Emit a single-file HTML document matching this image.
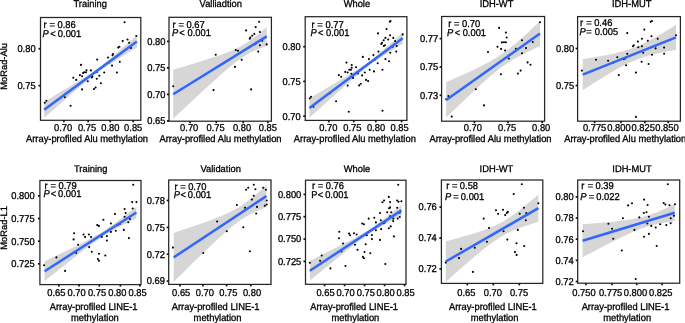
<!DOCTYPE html><html><head><meta charset="utf-8"><style>html,body{margin:0;padding:0;background:#fff;width:685px;height:323px;overflow:hidden}svg{display:block;will-change:transform}text{font-family:"Liberation Sans",sans-serif;font-size:9.35px;fill:#000;stroke:#000;stroke-width:0.3px;text-rendering:geometricPrecision}</style></head><body>
<svg xmlns="http://www.w3.org/2000/svg" width="685" height="323" viewBox="0 0 685 323">
<g><path d="M44.20,101.80 L46.52,100.42 L48.83,99.03 L51.15,97.65 L53.46,96.26 L55.78,94.87 L58.09,93.48 L60.41,92.09 L62.72,90.69 L65.03,89.30 L67.35,87.90 L69.67,86.49 L71.98,85.08 L74.30,83.67 L76.61,82.24 L78.93,80.81 L81.24,79.37 L83.56,77.91 L85.87,76.43 L88.19,74.93 L90.50,73.39 L92.81,71.82 L95.13,70.20 L97.45,68.53 L99.76,66.80 L102.08,65.02 L104.39,63.18 L106.71,61.31 L109.02,59.41 L111.34,57.47 L113.65,55.52 L115.97,53.55 L118.28,51.57 L120.60,49.58 L122.91,47.59 L125.23,45.58 L127.54,43.57 L129.86,41.56 L132.17,39.54 L134.49,37.52 L136.80,35.50 L136.80,47.50 L134.49,48.89 L132.17,50.29 L129.86,51.69 L127.54,53.09 L125.23,54.49 L122.91,55.90 L120.60,57.32 L118.28,58.75 L115.97,60.18 L113.65,61.63 L111.34,63.09 L109.02,64.57 L106.71,66.08 L104.39,67.63 L102.08,69.21 L99.76,70.84 L97.45,72.53 L95.13,74.27 L92.81,76.06 L90.50,77.91 L88.19,79.79 L85.87,81.70 L83.56,83.64 L81.24,85.59 L78.93,87.56 L76.61,89.55 L74.30,91.54 L71.98,93.54 L69.67,95.54 L67.35,97.55 L65.03,99.57 L62.72,101.59 L60.41,103.61 L58.09,105.63 L55.78,107.65 L53.46,109.68 L51.15,111.71 L48.83,113.74 L46.52,115.77 L44.20,117.80 Z" fill="#D6D6D6"/><circle cx="124.6" cy="22.3" r="1.05"/><circle cx="136.3" cy="36.0" r="1.05"/><circle cx="127.5" cy="39.5" r="1.05"/><circle cx="122.7" cy="41.1" r="1.05"/><circle cx="129.1" cy="42.7" r="1.05"/><circle cx="131.0" cy="47.9" r="1.05"/><circle cx="119.4" cy="46.8" r="1.05"/><circle cx="118.2" cy="47.6" r="1.05"/><circle cx="113.0" cy="54.0" r="1.05"/><circle cx="112.5" cy="55.3" r="1.05"/><circle cx="108.0" cy="57.5" r="1.05"/><circle cx="97.2" cy="59.6" r="1.05"/><circle cx="119.8" cy="61.7" r="1.05"/><circle cx="109.0" cy="62.4" r="1.05"/><circle cx="112.0" cy="65.6" r="1.05"/><circle cx="81.0" cy="64.9" r="1.05"/><circle cx="86.5" cy="70.3" r="1.05"/><circle cx="84.2" cy="72.2" r="1.05"/><circle cx="83.1" cy="73.0" r="1.05"/><circle cx="79.9" cy="75.1" r="1.05"/><circle cx="82.1" cy="76.2" r="1.05"/><circle cx="73.3" cy="77.8" r="1.05"/><circle cx="76.2" cy="79.9" r="1.05"/><circle cx="87.8" cy="81.3" r="1.05"/><circle cx="82.1" cy="89.4" r="1.05"/><circle cx="64.9" cy="97.2" r="1.05"/><circle cx="46.4" cy="100.7" r="1.05"/><circle cx="44.8" cy="102.8" r="1.05"/><circle cx="70.6" cy="105.7" r="1.05"/><circle cx="104.2" cy="72.5" r="1.05"/><circle cx="116.9" cy="72.5" r="1.05"/><circle cx="99.3" cy="75.8" r="1.05"/><circle cx="92.4" cy="76.6" r="1.05"/><circle cx="91.8" cy="77.5" r="1.05"/><circle cx="96.8" cy="78.7" r="1.05"/><circle cx="100.9" cy="83.2" r="1.05"/><circle cx="95.6" cy="87.5" r="1.05"/><circle cx="94.0" cy="89.1" r="1.05"/><circle cx="86.0" cy="72.3" r="1.05"/><circle cx="90.9" cy="70.4" r="1.05"/><circle cx="96.8" cy="72.0" r="1.05"/><line x1="44.2" y1="109.8" x2="136.8" y2="41.5" stroke="#3366FF" stroke-width="2.5"/><rect x="40.5" y="17.5" width="100.30" height="102.80" fill="none" stroke="#262626" stroke-width="1.25"/><line x1="63.9" y1="120.3" x2="63.9" y2="122.30" stroke="#111" stroke-width="1.7"/><text transform="translate(63.1 130.5) scale(1 1.06)" text-anchor="middle">0.70</text><line x1="88.2" y1="120.3" x2="88.2" y2="122.30" stroke="#111" stroke-width="1.7"/><text transform="translate(87.0 130.5) scale(1 1.06)" text-anchor="middle">0.75</text><line x1="110.2" y1="120.3" x2="110.2" y2="122.30" stroke="#111" stroke-width="1.7"/><text transform="translate(110.4 130.5) scale(1 1.06)" text-anchor="middle">0.80</text><line x1="133.2" y1="120.3" x2="133.2" y2="122.30" stroke="#111" stroke-width="1.7"/><text transform="translate(133.2 130.5) scale(1 1.06)" text-anchor="middle">0.85</text><line x1="38.50" y1="48.7" x2="40.5" y2="48.7" stroke="#111" stroke-width="1.7"/><text transform="translate(35.6 52.00) scale(1 1.06)" text-anchor="end">0.80</text><line x1="38.50" y1="85.7" x2="40.5" y2="85.7" stroke="#111" stroke-width="1.7"/><text transform="translate(35.6 89.00) scale(1 1.06)" text-anchor="end">0.75</text><text transform="translate(90.2 7.0) scale(1 1.05)" text-anchor="middle">Training</text><text transform="translate(87.0 142.0) scale(1 1.06)" text-anchor="middle">Array-profiled Alu methylation</text><text transform="translate(43.48 28.26) scale(1 1.06)">r</text><text transform="translate(49.44 28.26) scale(1 1.06)">=</text><text transform="translate(57.54 28.26) scale(1 1.06)">0.86</text><text transform="translate(42.61 36.8) scale(1 1.06)" font-style="italic">P</text><text transform="translate(50.34 36.8) scale(1 1.06)">&lt;</text><text transform="translate(57.84 36.8) scale(1 1.06)">0.001</text></g>
<g><path d="M173.20,69.70 L175.54,69.01 L177.88,68.32 L180.21,67.62 L182.55,66.92 L184.89,66.22 L187.22,65.52 L189.56,64.82 L191.90,64.11 L194.24,63.40 L196.57,62.69 L198.91,61.97 L201.25,61.24 L203.59,60.51 L205.92,59.78 L208.26,59.03 L210.60,58.28 L212.94,57.52 L215.27,56.74 L217.61,55.95 L219.95,55.14 L222.29,54.32 L224.62,53.46 L226.96,52.58 L229.30,51.66 L231.64,50.69 L233.97,49.67 L236.31,48.59 L238.65,47.42 L240.99,46.18 L243.32,44.84 L245.66,43.39 L248.00,41.85 L250.34,40.22 L252.67,38.49 L255.01,36.69 L257.35,34.83 L259.69,32.90 L262.02,30.94 L264.36,28.93 L266.70,26.90 L266.70,45.90 L264.36,46.76 L262.02,47.64 L259.69,48.57 L257.35,49.53 L255.01,50.56 L252.67,51.65 L250.34,52.81 L248.00,54.07 L245.66,55.42 L243.32,56.86 L240.99,58.41 L238.65,60.06 L236.31,61.78 L233.97,63.59 L231.64,65.46 L229.30,67.38 L226.96,69.35 L224.62,71.36 L222.29,73.39 L219.95,75.46 L217.61,77.54 L215.27,79.64 L212.94,81.75 L210.60,83.88 L208.26,86.02 L205.92,88.16 L203.59,90.32 L201.25,92.48 L198.91,94.64 L196.57,96.81 L194.24,98.99 L191.90,101.17 L189.56,103.35 L187.22,105.54 L184.89,107.73 L182.55,109.92 L180.21,112.11 L177.88,114.30 L175.54,116.50 L173.20,118.70 Z" fill="#D6D6D6"/><circle cx="259.1" cy="21.8" r="1.05"/><circle cx="246.1" cy="30.4" r="1.05"/><circle cx="255.7" cy="27.1" r="1.05"/><circle cx="259.9" cy="32.0" r="1.05"/><circle cx="254.3" cy="33.9" r="1.05"/><circle cx="252.2" cy="35.8" r="1.05"/><circle cx="250.3" cy="37.6" r="1.05"/><circle cx="249.8" cy="38.7" r="1.05"/><circle cx="262.2" cy="40.8" r="1.05"/><circle cx="255.4" cy="44.1" r="1.05"/><circle cx="259.9" cy="45.2" r="1.05"/><circle cx="266.7" cy="44.4" r="1.05"/><circle cx="235.8" cy="50.0" r="1.05"/><circle cx="238.0" cy="50.8" r="1.05"/><circle cx="258.2" cy="51.6" r="1.05"/><circle cx="241.7" cy="59.7" r="1.05"/><circle cx="235.0" cy="66.9" r="1.05"/><circle cx="173.2" cy="86.3" r="1.05"/><circle cx="213.5" cy="90.1" r="1.05"/><circle cx="215.7" cy="54.8" r="1.05"/><circle cx="251.1" cy="89.4" r="1.05"/><line x1="173.2" y1="94.2" x2="266.7" y2="36.4" stroke="#3366FF" stroke-width="2.5"/><rect x="169.0" y="17.3" width="102.40" height="103.90" fill="none" stroke="#262626" stroke-width="1.25"/><line x1="190.0" y1="121.2" x2="190.0" y2="123.20" stroke="#111" stroke-width="1.7"/><text transform="translate(189.2 130.5) scale(1 1.06)" text-anchor="middle">0.70</text><line x1="216.3" y1="121.2" x2="216.3" y2="123.20" stroke="#111" stroke-width="1.7"/><text transform="translate(215.6 130.5) scale(1 1.06)" text-anchor="middle">0.75</text><line x1="243.2" y1="121.2" x2="243.2" y2="123.20" stroke="#111" stroke-width="1.7"/><text transform="translate(242.0 130.5) scale(1 1.06)" text-anchor="middle">0.80</text><line x1="267.8" y1="121.2" x2="267.8" y2="123.20" stroke="#111" stroke-width="1.7"/><text transform="translate(267.8 130.5) scale(1 1.06)" text-anchor="middle">0.85</text><line x1="167.00" y1="41.3" x2="169.0" y2="41.3" stroke="#111" stroke-width="1.7"/><text transform="translate(165.4 44.60) scale(1 1.06)" text-anchor="end">0.80</text><line x1="167.00" y1="67.8" x2="169.0" y2="67.8" stroke="#111" stroke-width="1.7"/><text transform="translate(165.4 71.10) scale(1 1.06)" text-anchor="end">0.75</text><line x1="167.00" y1="94.3" x2="169.0" y2="94.3" stroke="#111" stroke-width="1.7"/><text transform="translate(165.4 97.60) scale(1 1.06)" text-anchor="end">0.70</text><line x1="167.00" y1="120.8" x2="169.0" y2="120.8" stroke="#111" stroke-width="1.7"/><text transform="translate(165.4 124.10) scale(1 1.06)" text-anchor="end">0.65</text><text transform="translate(220.8 7.0) scale(1 1.05)" text-anchor="middle">Valliadtion</text><text transform="translate(220.5 142.0) scale(1 1.06)" text-anchor="middle">Array-profiled Alu methylation</text><text transform="translate(172.58 27.86) scale(1 1.06)">r</text><text transform="translate(178.44 27.86) scale(1 1.06)">=</text><text transform="translate(186.54 27.86) scale(1 1.06)">0.67</text><text transform="translate(171.91 36.26) scale(1 1.06)" font-style="italic">P</text><text transform="translate(179.34 36.26) scale(1 1.06)">&lt;</text><text transform="translate(187.44 36.26) scale(1 1.06)">0.001</text></g>
<g><path d="M309.50,98.30 L311.83,96.92 L314.16,95.53 L316.49,94.15 L318.82,92.77 L321.15,91.38 L323.48,89.99 L325.81,88.60 L328.14,87.21 L330.47,85.82 L332.80,84.43 L335.13,83.03 L337.46,81.64 L339.79,80.23 L342.12,78.83 L344.45,77.42 L346.78,76.00 L349.11,74.57 L351.44,73.14 L353.77,71.69 L356.10,70.23 L358.43,68.74 L360.76,67.23 L363.09,65.67 L365.42,64.07 L367.75,62.42 L370.08,60.69 L372.41,58.90 L374.74,57.05 L377.07,55.14 L379.40,53.19 L381.73,51.21 L384.06,49.20 L386.39,47.17 L388.72,45.13 L391.05,43.08 L393.38,41.01 L395.71,38.94 L398.04,36.87 L400.37,34.78 L402.70,32.70 L402.70,43.90 L400.37,45.30 L398.04,46.70 L395.71,48.11 L393.38,49.53 L391.05,50.95 L388.72,52.38 L386.39,53.82 L384.06,55.28 L381.73,56.75 L379.40,58.26 L377.07,59.79 L374.74,61.37 L372.41,63.00 L370.08,64.70 L367.75,66.46 L365.42,68.29 L363.09,70.17 L360.76,72.10 L358.43,74.07 L356.10,76.07 L353.77,78.09 L351.44,80.13 L349.11,82.18 L346.78,84.24 L344.45,86.31 L342.12,88.38 L339.79,90.46 L337.46,92.54 L335.13,94.63 L332.80,96.72 L330.47,98.81 L328.14,100.91 L325.81,103.00 L323.48,105.10 L321.15,107.20 L318.82,109.29 L316.49,111.40 L314.16,113.50 L311.83,115.60 L309.50,117.70 Z" fill="#D6D6D6"/><circle cx="389.8" cy="21.8" r="1.05"/><circle cx="390.5" cy="21.0" r="1.05"/><circle cx="386.6" cy="29.1" r="1.05"/><circle cx="378.0" cy="33.4" r="1.05"/><circle cx="390.1" cy="35.2" r="1.05"/><circle cx="402.7" cy="34.4" r="1.05"/><circle cx="393.3" cy="37.9" r="1.05"/><circle cx="385.4" cy="37.9" r="1.05"/><circle cx="383.7" cy="40.3" r="1.05"/><circle cx="388.2" cy="39.5" r="1.05"/><circle cx="382.1" cy="42.7" r="1.05"/><circle cx="381.3" cy="44.0" r="1.05"/><circle cx="385.0" cy="45.2" r="1.05"/><circle cx="383.8" cy="46.0" r="1.05"/><circle cx="395.1" cy="41.1" r="1.05"/><circle cx="392.7" cy="46.8" r="1.05"/><circle cx="396.7" cy="46.0" r="1.05"/><circle cx="378.5" cy="51.6" r="1.05"/><circle cx="386.2" cy="50.8" r="1.05"/><circle cx="390.3" cy="52.7" r="1.05"/><circle cx="396.2" cy="51.6" r="1.05"/><circle cx="373.4" cy="55.1" r="1.05"/><circle cx="362.8" cy="56.9" r="1.05"/><circle cx="368.9" cy="59.1" r="1.05"/><circle cx="375.0" cy="59.6" r="1.05"/><circle cx="385.4" cy="59.1" r="1.05"/><circle cx="389.0" cy="61.2" r="1.05"/><circle cx="377.7" cy="63.3" r="1.05"/><circle cx="356.1" cy="67.3" r="1.05"/><circle cx="346.5" cy="62.6" r="1.05"/><circle cx="351.7" cy="65.0" r="1.05"/><circle cx="351.7" cy="67.7" r="1.05"/><circle cx="349.3" cy="69.8" r="1.05"/><circle cx="350.9" cy="69.8" r="1.05"/><circle cx="345.3" cy="71.9" r="1.05"/><circle cx="347.7" cy="72.5" r="1.05"/><circle cx="351.4" cy="73.8" r="1.05"/><circle cx="338.8" cy="75.1" r="1.05"/><circle cx="341.2" cy="76.7" r="1.05"/><circle cx="353.0" cy="77.9" r="1.05"/><circle cx="347.7" cy="85.6" r="1.05"/><circle cx="330.0" cy="93.2" r="1.05"/><circle cx="311.1" cy="96.7" r="1.05"/><circle cx="309.8" cy="98.3" r="1.05"/><circle cx="313.4" cy="106.8" r="1.05"/><circle cx="336.1" cy="101.2" r="1.05"/><circle cx="348.8" cy="111.7" r="1.05"/><circle cx="369.7" cy="69.8" r="1.05"/><circle cx="374.0" cy="71.4" r="1.05"/><circle cx="382.5" cy="69.8" r="1.05"/><circle cx="364.8" cy="72.5" r="1.05"/><circle cx="357.9" cy="73.5" r="1.05"/><circle cx="362.1" cy="75.4" r="1.05"/><circle cx="366.0" cy="79.9" r="1.05"/><circle cx="368.1" cy="81.1" r="1.05"/><circle cx="360.8" cy="83.8" r="1.05"/><circle cx="359.2" cy="85.4" r="1.05"/><circle cx="382.5" cy="110.8" r="1.05"/><line x1="309.5" y1="108.0" x2="402.7" y2="38.300000000000004" stroke="#3366FF" stroke-width="2.5"/><rect x="305.2" y="16.7" width="101.70" height="103.70" fill="none" stroke="#262626" stroke-width="1.25"/><line x1="328.8" y1="120.4" x2="328.8" y2="122.40" stroke="#111" stroke-width="1.7"/><text transform="translate(328.4 130.5) scale(1 1.06)" text-anchor="middle">0.70</text><line x1="353.7" y1="120.4" x2="353.7" y2="122.40" stroke="#111" stroke-width="1.7"/><text transform="translate(352.4 130.5) scale(1 1.06)" text-anchor="middle">0.75</text><line x1="375.8" y1="120.4" x2="375.8" y2="122.40" stroke="#111" stroke-width="1.7"/><text transform="translate(376.0 130.5) scale(1 1.06)" text-anchor="middle">0.80</text><line x1="401.6" y1="120.4" x2="401.6" y2="122.40" stroke="#111" stroke-width="1.7"/><text transform="translate(399.6 130.5) scale(1 1.06)" text-anchor="middle">0.85</text><line x1="303.20" y1="46.7" x2="305.2" y2="46.7" stroke="#111" stroke-width="1.7"/><text transform="translate(300.7 50.00) scale(1 1.06)" text-anchor="end">0.80</text><line x1="303.20" y1="81.45" x2="305.2" y2="81.45" stroke="#111" stroke-width="1.7"/><text transform="translate(300.7 84.75) scale(1 1.06)" text-anchor="end">0.75</text><line x1="303.20" y1="116.2" x2="305.2" y2="116.2" stroke="#111" stroke-width="1.7"/><text transform="translate(300.7 119.50) scale(1 1.06)" text-anchor="end">0.70</text><text transform="translate(356.9 7.0) scale(1 1.05)" text-anchor="middle">Whole</text><text transform="translate(354.8 142.0) scale(1 1.06)" text-anchor="middle">Array-profiled Alu methylation</text><text transform="translate(311.38 27.7) scale(1 1.06)">r</text><text transform="translate(317.14 27.7) scale(1 1.06)">=</text><text transform="translate(325.44 27.7) scale(1 1.06)">0.77</text><text transform="translate(310.51 36.1) scale(1 1.06)" font-style="italic">P</text><text transform="translate(318.04 36.1) scale(1 1.06)">&lt;</text><text transform="translate(326.04 36.1) scale(1 1.06)">0.001</text></g>
<g><path d="M446.20,82.20 L448.55,81.17 L450.89,80.13 L453.24,79.10 L455.58,78.05 L457.93,77.00 L460.27,75.95 L462.62,74.88 L464.96,73.81 L467.31,72.73 L469.65,71.64 L472.00,70.54 L474.34,69.42 L476.69,68.29 L479.03,67.14 L481.38,65.96 L483.72,64.77 L486.06,63.54 L488.41,62.27 L490.75,60.96 L493.10,59.61 L495.44,58.21 L497.79,56.74 L500.13,55.21 L502.48,53.62 L504.82,51.95 L507.17,50.21 L509.51,48.41 L511.86,46.54 L514.21,44.62 L516.55,42.64 L518.89,40.62 L521.24,38.56 L523.59,36.47 L525.93,34.35 L528.27,32.20 L530.62,30.03 L532.97,27.85 L535.31,25.64 L537.65,23.43 L540.00,21.20 L540.00,46.00 L537.65,47.09 L535.31,48.19 L532.97,49.30 L530.62,50.43 L528.27,51.57 L525.93,52.74 L523.59,53.93 L521.24,55.16 L518.89,56.41 L516.55,57.71 L514.21,59.05 L511.86,60.44 L509.51,61.89 L507.17,63.40 L504.82,64.98 L502.48,66.62 L500.13,68.34 L497.79,70.13 L495.44,71.98 L493.10,73.89 L490.75,75.85 L488.41,77.86 L486.06,79.91 L483.72,81.99 L481.38,84.11 L479.03,86.25 L476.69,88.41 L474.34,90.60 L472.00,92.80 L469.65,95.01 L467.31,97.23 L464.96,99.47 L462.62,101.71 L460.27,103.96 L457.93,106.22 L455.58,108.49 L453.24,110.76 L450.89,113.04 L448.55,115.32 L446.20,117.60 Z" fill="#D6D6D6"/><circle cx="540.0" cy="22.2" r="1.05"/><circle cx="499.1" cy="27.9" r="1.05"/><circle cx="505.9" cy="32.6" r="1.05"/><circle cx="506.7" cy="37.5" r="1.05"/><circle cx="501.9" cy="42.4" r="1.05"/><circle cx="504.0" cy="42.3" r="1.05"/><circle cx="505.9" cy="42.3" r="1.05"/><circle cx="497.5" cy="46.8" r="1.05"/><circle cx="501.1" cy="48.9" r="1.05"/><circle cx="505.1" cy="50.5" r="1.05"/><circle cx="522.0" cy="40.3" r="1.05"/><circle cx="532.8" cy="42.0" r="1.05"/><circle cx="515.9" cy="48.7" r="1.05"/><circle cx="526.0" cy="48.1" r="1.05"/><circle cx="522.0" cy="53.2" r="1.05"/><circle cx="508.8" cy="58.5" r="1.05"/><circle cx="527.6" cy="62.4" r="1.05"/><circle cx="530.5" cy="64.7" r="1.05"/><circle cx="488.0" cy="52.1" r="1.05"/><circle cx="446.2" cy="99.3" r="1.05"/><circle cx="448.4" cy="96.1" r="1.05"/><circle cx="475.8" cy="89.2" r="1.05"/><circle cx="484.0" cy="105.4" r="1.05"/><circle cx="451.7" cy="116.6" r="1.05"/><circle cx="500.9" cy="74.2" r="1.05"/><circle cx="517.9" cy="73.6" r="1.05"/><circle cx="520.6" cy="70.6" r="1.05"/><line x1="446.2" y1="99.9" x2="540.0" y2="33.6" stroke="#3366FF" stroke-width="2.5"/><rect x="441.6" y="16.5" width="103.00" height="104.70" fill="none" stroke="#262626" stroke-width="1.25"/><line x1="474.4" y1="121.2" x2="474.4" y2="123.20" stroke="#111" stroke-width="1.7"/><text transform="translate(472.9 130.5) scale(1 1.06)" text-anchor="middle">0.70</text><line x1="508.0" y1="121.2" x2="508.0" y2="123.20" stroke="#111" stroke-width="1.7"/><text transform="translate(507.1 130.5) scale(1 1.06)" text-anchor="middle">0.75</text><line x1="542.2" y1="121.2" x2="542.2" y2="123.20" stroke="#111" stroke-width="1.7"/><text transform="translate(541.2 130.5) scale(1 1.06)" text-anchor="middle">0.80</text><line x1="439.60" y1="38.6" x2="441.6" y2="38.6" stroke="#111" stroke-width="1.7"/><text transform="translate(438.2 41.90) scale(1 1.06)" text-anchor="end">0.77</text><line x1="439.60" y1="66.95" x2="441.6" y2="66.95" stroke="#111" stroke-width="1.7"/><text transform="translate(438.2 70.25) scale(1 1.06)" text-anchor="end">0.75</text><line x1="439.60" y1="95.3" x2="441.6" y2="95.3" stroke="#111" stroke-width="1.7"/><text transform="translate(438.2 98.60) scale(1 1.06)" text-anchor="end">0.73</text><text transform="translate(496.5 7.0) scale(1 1.05)" text-anchor="middle">IDH-WT</text><text transform="translate(490.5 142.0) scale(1 1.06)" text-anchor="middle">Array-profiled Alu methylation</text><text transform="translate(448.28 27.1) scale(1 1.06)">r</text><text transform="translate(454.04 27.1) scale(1 1.06)">=</text><text transform="translate(462.04 27.1) scale(1 1.06)">0.70</text><text transform="translate(447.11 35.8) scale(1 1.06)" font-style="italic">P</text><text transform="translate(454.64 35.8) scale(1 1.06)">&lt;</text><text transform="translate(462.64 35.8) scale(1 1.06)">0.001</text></g>
<g><path d="M582.70,59.20 L585.03,58.82 L587.37,58.44 L589.70,58.06 L592.03,57.67 L594.36,57.27 L596.70,56.86 L599.03,56.45 L601.36,56.02 L603.69,55.58 L606.03,55.13 L608.36,54.67 L610.69,54.18 L613.02,53.68 L615.36,53.15 L617.69,52.60 L620.02,52.02 L622.35,51.40 L624.69,50.74 L627.02,50.03 L629.35,49.28 L631.68,48.48 L634.01,47.61 L636.35,46.69 L638.68,45.71 L641.01,44.68 L643.35,43.58 L645.68,42.44 L648.01,41.25 L650.34,40.02 L652.67,38.75 L655.01,37.45 L657.34,36.12 L659.67,34.76 L662.00,33.38 L664.34,31.99 L666.67,30.57 L669.00,29.15 L671.34,27.71 L673.67,26.26 L676.00,24.80 L676.00,49.80 L673.67,50.21 L671.34,50.63 L669.00,51.06 L666.67,51.51 L664.34,51.96 L662.00,52.44 L659.67,52.93 L657.34,53.44 L655.01,53.98 L652.67,54.55 L650.34,55.15 L648.01,55.79 L645.68,56.47 L643.35,57.20 L641.01,57.97 L638.68,58.81 L636.35,59.70 L634.01,60.65 L631.68,61.65 L629.35,62.72 L627.02,63.84 L624.69,65.00 L622.35,66.21 L620.02,67.46 L617.69,68.75 L615.36,70.07 L613.02,71.41 L610.69,72.78 L608.36,74.16 L606.03,75.57 L603.69,76.99 L601.36,78.42 L599.03,79.86 L596.70,81.32 L594.36,82.78 L592.03,84.25 L589.70,85.73 L587.37,87.22 L585.03,88.71 L582.70,90.20 Z" fill="#D6D6D6"/><circle cx="650.7" cy="21.8" r="1.05"/><circle cx="651.9" cy="21.0" r="1.05"/><circle cx="644.3" cy="29.6" r="1.05"/><circle cx="676.0" cy="35.2" r="1.05"/><circle cx="651.5" cy="36.3" r="1.05"/><circle cx="657.7" cy="38.7" r="1.05"/><circle cx="641.9" cy="38.7" r="1.05"/><circle cx="647.8" cy="40.7" r="1.05"/><circle cx="637.9" cy="41.6" r="1.05"/><circle cx="633.8" cy="45.2" r="1.05"/><circle cx="633.0" cy="46.3" r="1.05"/><circle cx="638.3" cy="47.3" r="1.05"/><circle cx="641.9" cy="46.3" r="1.05"/><circle cx="655.6" cy="48.4" r="1.05"/><circle cx="664.1" cy="47.6" r="1.05"/><circle cx="643.2" cy="52.7" r="1.05"/><circle cx="652.0" cy="54.8" r="1.05"/><circle cx="664.1" cy="53.7" r="1.05"/><circle cx="641.6" cy="61.8" r="1.05"/><circle cx="648.6" cy="64.0" r="1.05"/><circle cx="627.2" cy="33.1" r="1.05"/><circle cx="596.0" cy="59.7" r="1.05"/><circle cx="608.1" cy="60.8" r="1.05"/><circle cx="606.8" cy="65.3" r="1.05"/><circle cx="613.2" cy="62.6" r="1.05"/><circle cx="617.3" cy="57.3" r="1.05"/><circle cx="623.7" cy="59.2" r="1.05"/><circle cx="625.3" cy="58.5" r="1.05"/><circle cx="627.2" cy="53.7" r="1.05"/><circle cx="626.1" cy="65.3" r="1.05"/><circle cx="581.9" cy="70.6" r="1.05"/><circle cx="618.8" cy="75.1" r="1.05"/><circle cx="635.9" cy="72.6" r="1.05"/><circle cx="635.9" cy="116.9" r="1.05"/><line x1="582.7" y1="74.69999999999999" x2="676.0" y2="37.3" stroke="#3366FF" stroke-width="2.5"/><rect x="577.6" y="16.6" width="102.80" height="104.60" fill="none" stroke="#262626" stroke-width="1.25"/><line x1="594.6" y1="121.2" x2="594.6" y2="123.20" stroke="#111" stroke-width="1.7"/><text transform="translate(594.6 130.5) scale(1 1.06)" text-anchor="middle">0.775</text><line x1="621.0" y1="121.2" x2="621.0" y2="123.20" stroke="#111" stroke-width="1.7"/><text transform="translate(619.0 130.5) scale(1 1.06)" text-anchor="middle">0.800</text><line x1="644.9" y1="121.2" x2="644.9" y2="123.20" stroke="#111" stroke-width="1.7"/><text transform="translate(643.2 130.5) scale(1 1.06)" text-anchor="middle">0.825</text><line x1="668.3" y1="121.2" x2="668.3" y2="123.20" stroke="#111" stroke-width="1.7"/><text transform="translate(667.0 130.5) scale(1 1.06)" text-anchor="middle">0.850</text><line x1="575.60" y1="48.5" x2="577.6" y2="48.5" stroke="#111" stroke-width="1.7"/><text transform="translate(574.2 51.80) scale(1 1.06)" text-anchor="end">0.80</text><line x1="575.60" y1="85.5" x2="577.6" y2="85.5" stroke="#111" stroke-width="1.7"/><text transform="translate(574.2 88.80) scale(1 1.06)" text-anchor="end">0.75</text><text transform="translate(631.7 7.0) scale(1 1.05)" text-anchor="middle">IDH-MUT</text><text transform="translate(625.2 142.0) scale(1 1.06)" text-anchor="middle">Array-profiled Alu methylation</text><text transform="translate(579.98 25.96) scale(1 1.06)">r</text><text transform="translate(586.34 25.96) scale(1 1.06)">=</text><text transform="translate(594.14 25.96) scale(1 1.06)">0.46</text><text transform="translate(579.51 34.66) scale(1 1.06)" font-style="italic">P</text><text transform="translate(586.34 34.66) scale(1 1.06)">=</text><text transform="translate(594.74 34.66) scale(1 1.06)">0.005</text></g>
<g><path d="M44.60,261.40 L46.90,260.29 L49.19,259.17 L51.48,258.06 L53.78,256.94 L56.08,255.83 L58.37,254.71 L60.67,253.59 L62.96,252.46 L65.25,251.34 L67.55,250.21 L69.84,249.08 L72.14,247.94 L74.44,246.80 L76.73,245.66 L79.03,244.50 L81.32,243.34 L83.62,242.17 L85.91,240.99 L88.21,239.79 L90.50,238.57 L92.80,237.33 L95.09,236.06 L97.39,234.75 L99.68,233.40 L101.98,232.00 L104.27,230.54 L106.57,229.04 L108.86,227.48 L111.16,225.87 L113.45,224.23 L115.75,222.55 L118.04,220.85 L120.34,219.12 L122.63,217.38 L124.93,215.62 L127.22,213.85 L129.52,212.07 L131.81,210.29 L134.11,208.50 L136.40,206.70 L136.40,218.30 L134.11,219.44 L131.81,220.58 L129.52,221.73 L127.22,222.89 L124.93,224.05 L122.63,225.23 L120.34,226.42 L118.04,227.63 L115.75,228.86 L113.45,230.12 L111.16,231.41 L108.86,232.74 L106.57,234.12 L104.27,235.55 L101.98,237.03 L99.68,238.56 L97.39,240.15 L95.09,241.77 L92.80,243.44 L90.50,245.13 L88.21,246.85 L85.91,248.58 L83.62,250.33 L81.32,252.10 L79.03,253.87 L76.73,255.65 L74.44,257.44 L72.14,259.24 L69.84,261.04 L67.55,262.84 L65.25,264.65 L62.96,266.46 L60.67,268.27 L58.37,270.08 L56.08,271.90 L53.78,273.72 L51.48,275.54 L49.19,277.36 L46.90,279.18 L44.60,281.00 Z" fill="#D6D6D6"/><circle cx="133.2" cy="184.8" r="1.05"/><circle cx="132.2" cy="202.1" r="1.05"/><circle cx="136.4" cy="202.1" r="1.05"/><circle cx="132.7" cy="208.5" r="1.05"/><circle cx="124.6" cy="209.0" r="1.05"/><circle cx="125.7" cy="213.0" r="1.05"/><circle cx="115.0" cy="214.1" r="1.05"/><circle cx="124.6" cy="216.7" r="1.05"/><circle cx="129.9" cy="219.0" r="1.05"/><circle cx="128.3" cy="222.2" r="1.05"/><circle cx="103.4" cy="219.8" r="1.05"/><circle cx="110.9" cy="223.5" r="1.05"/><circle cx="119.8" cy="224.0" r="1.05"/><circle cx="117.7" cy="225.1" r="1.05"/><circle cx="97.2" cy="225.1" r="1.05"/><circle cx="98.9" cy="225.9" r="1.05"/><circle cx="123.8" cy="229.9" r="1.05"/><circle cx="115.8" cy="230.7" r="1.05"/><circle cx="110.9" cy="231.9" r="1.05"/><circle cx="74.1" cy="233.3" r="1.05"/><circle cx="83.5" cy="234.5" r="1.05"/><circle cx="85.1" cy="236.9" r="1.05"/><circle cx="88.9" cy="234.5" r="1.05"/><circle cx="73.6" cy="239.4" r="1.05"/><circle cx="91.0" cy="237.0" r="1.05"/><circle cx="78.1" cy="244.8" r="1.05"/><circle cx="89.2" cy="247.1" r="1.05"/><circle cx="76.1" cy="253.0" r="1.05"/><circle cx="91.8" cy="251.7" r="1.05"/><circle cx="56.4" cy="257.4" r="1.05"/><circle cx="44.1" cy="265.3" r="1.05"/><circle cx="65.1" cy="270.9" r="1.05"/><circle cx="101.8" cy="236.9" r="1.05"/><circle cx="106.9" cy="236.1" r="1.05"/><circle cx="106.9" cy="240.5" r="1.05"/><circle cx="128.9" cy="238.1" r="1.05"/><circle cx="99.0" cy="253.8" r="1.05"/><circle cx="105.3" cy="255.5" r="1.05"/><circle cx="97.9" cy="259.1" r="1.05"/><circle cx="99.0" cy="260.7" r="1.05"/><line x1="44.6" y1="271.20000000000005" x2="136.4" y2="212.5" stroke="#3366FF" stroke-width="2.5"/><rect x="39.9" y="180.5" width="101.10" height="104.10" fill="none" stroke="#262626" stroke-width="1.25"/><line x1="58.8" y1="284.6" x2="58.8" y2="286.60" stroke="#111" stroke-width="1.7"/><text transform="translate(56.3 296.2) scale(1 1.06)" text-anchor="middle">0.65</text><line x1="79.0" y1="284.6" x2="79.0" y2="286.60" stroke="#111" stroke-width="1.7"/><text transform="translate(76.6 296.2) scale(1 1.06)" text-anchor="middle">0.70</text><line x1="99.3" y1="284.6" x2="99.3" y2="286.60" stroke="#111" stroke-width="1.7"/><text transform="translate(97.0 296.2) scale(1 1.06)" text-anchor="middle">0.75</text><line x1="120.4" y1="284.6" x2="120.4" y2="286.60" stroke="#111" stroke-width="1.7"/><text transform="translate(117.3 296.2) scale(1 1.06)" text-anchor="middle">0.80</text><line x1="139.9" y1="284.6" x2="139.9" y2="286.60" stroke="#111" stroke-width="1.7"/><text transform="translate(137.6 296.2) scale(1 1.06)" text-anchor="middle">0.85</text><line x1="37.90" y1="195.9" x2="39.9" y2="195.9" stroke="#111" stroke-width="1.7"/><text transform="translate(34.6 199.20) scale(1 1.06)" text-anchor="end">0.800</text><line x1="37.90" y1="218.5" x2="39.9" y2="218.5" stroke="#111" stroke-width="1.7"/><text transform="translate(34.6 221.80) scale(1 1.06)" text-anchor="end">0.775</text><line x1="37.90" y1="241.2" x2="39.9" y2="241.2" stroke="#111" stroke-width="1.7"/><text transform="translate(34.6 244.50) scale(1 1.06)" text-anchor="end">0.750</text><line x1="37.90" y1="263.8" x2="39.9" y2="263.8" stroke="#111" stroke-width="1.7"/><text transform="translate(34.6 267.10) scale(1 1.06)" text-anchor="end">0.725</text><text transform="translate(90.7 171.9) scale(1 1.03)" text-anchor="middle">Training</text><text transform="translate(93.6 309.9) scale(1 1.06)" text-anchor="middle">Array-profiled LINE-1</text><text transform="translate(94.9 321.4) scale(1 1.06)" text-anchor="middle">methylation</text><text transform="translate(44.48 188.8) scale(1 1.06)">r</text><text transform="translate(50.54 188.8) scale(1 1.06)">=</text><text transform="translate(58.54 188.8) scale(1 1.06)">0.79</text><text transform="translate(43.61 196.9) scale(1 1.06)" font-style="italic">P</text><text transform="translate(50.84 196.9) scale(1 1.06)">&lt;</text><text transform="translate(58.04 196.9) scale(1 1.06)">0.001</text></g>
<g><path d="M173.70,232.90 L176.02,232.13 L178.33,231.36 L180.65,230.59 L182.97,229.81 L185.29,229.03 L187.60,228.25 L189.92,227.47 L192.24,226.68 L194.56,225.88 L196.88,225.08 L199.19,224.27 L201.51,223.46 L203.83,222.63 L206.14,221.80 L208.46,220.96 L210.78,220.10 L213.10,219.23 L215.41,218.34 L217.73,217.43 L220.05,216.49 L222.37,215.53 L224.68,214.53 L227.00,213.49 L229.32,212.40 L231.64,211.26 L233.95,210.05 L236.27,208.77 L238.59,207.40 L240.91,205.95 L243.22,204.41 L245.54,202.77 L247.86,201.05 L250.18,199.25 L252.49,197.38 L254.81,195.45 L257.13,193.46 L259.45,191.42 L261.76,189.35 L264.08,187.24 L266.40,185.10 L266.40,207.10 L264.08,208.03 L261.76,208.98 L259.45,209.97 L257.13,211.00 L254.81,212.08 L252.49,213.21 L250.18,214.40 L247.86,215.67 L245.54,217.01 L243.22,218.44 L240.91,219.96 L238.59,221.58 L236.27,223.28 L233.95,225.06 L231.64,226.91 L229.32,228.84 L227.00,230.81 L224.68,232.84 L222.37,234.91 L220.05,237.01 L217.73,239.14 L215.41,241.29 L213.10,243.47 L210.78,245.66 L208.46,247.87 L206.14,250.09 L203.83,252.32 L201.51,254.56 L199.19,256.81 L196.88,259.07 L194.56,261.33 L192.24,263.60 L189.92,265.88 L187.60,268.16 L185.29,270.44 L182.97,272.73 L180.65,275.02 L178.33,277.31 L176.02,279.60 L173.70,281.90 Z" fill="#D6D6D6"/><circle cx="253.8" cy="184.8" r="1.05"/><circle cx="248.2" cy="187.7" r="1.05"/><circle cx="246.1" cy="189.7" r="1.05"/><circle cx="255.4" cy="189.3" r="1.05"/><circle cx="263.2" cy="187.7" r="1.05"/><circle cx="265.9" cy="189.7" r="1.05"/><circle cx="253.8" cy="195.8" r="1.05"/><circle cx="251.9" cy="199.6" r="1.05"/><circle cx="266.7" cy="200.5" r="1.05"/><circle cx="236.9" cy="205.0" r="1.05"/><circle cx="245.0" cy="207.7" r="1.05"/><circle cx="257.0" cy="206.9" r="1.05"/><circle cx="264.8" cy="205.8" r="1.05"/><circle cx="266.7" cy="204.5" r="1.05"/><circle cx="256.2" cy="213.5" r="1.05"/><circle cx="243.3" cy="227.2" r="1.05"/><circle cx="226.8" cy="231.2" r="1.05"/><circle cx="217.1" cy="221.5" r="1.05"/><circle cx="172.9" cy="247.6" r="1.05"/><circle cx="203.3" cy="253.0" r="1.05"/><circle cx="249.9" cy="251.2" r="1.05"/><line x1="173.7" y1="257.40000000000003" x2="266.4" y2="196.1" stroke="#3366FF" stroke-width="2.5"/><rect x="168.7" y="180.0" width="102.30" height="104.40" fill="none" stroke="#262626" stroke-width="1.25"/><line x1="180.0" y1="284.4" x2="180.0" y2="286.40" stroke="#111" stroke-width="1.7"/><text transform="translate(181.2 296.2) scale(1 1.06)" text-anchor="middle">0.65</text><line x1="203.0" y1="284.4" x2="203.0" y2="286.40" stroke="#111" stroke-width="1.7"/><text transform="translate(204.8 296.2) scale(1 1.06)" text-anchor="middle">0.70</text><line x1="226.6" y1="284.4" x2="226.6" y2="286.40" stroke="#111" stroke-width="1.7"/><text transform="translate(228.3 296.2) scale(1 1.06)" text-anchor="middle">0.75</text><line x1="250.8" y1="284.4" x2="250.8" y2="286.40" stroke="#111" stroke-width="1.7"/><text transform="translate(252.0 296.2) scale(1 1.06)" text-anchor="middle">0.80</text><line x1="166.70" y1="200.5" x2="168.7" y2="200.5" stroke="#111" stroke-width="1.7"/><text transform="translate(165.0 203.80) scale(1 1.06)" text-anchor="end">0.78</text><line x1="166.70" y1="227.4" x2="168.7" y2="227.4" stroke="#111" stroke-width="1.7"/><text transform="translate(165.0 230.70) scale(1 1.06)" text-anchor="end">0.75</text><line x1="166.70" y1="254.2" x2="168.7" y2="254.2" stroke="#111" stroke-width="1.7"/><text transform="translate(165.0 257.50) scale(1 1.06)" text-anchor="end">0.72</text><line x1="166.70" y1="281.1" x2="168.7" y2="281.1" stroke="#111" stroke-width="1.7"/><text transform="translate(165.0 284.40) scale(1 1.06)" text-anchor="end">0.69</text><text transform="translate(220.7 171.9) scale(1 1.03)" text-anchor="middle">Validation</text><text transform="translate(215.6 309.9) scale(1 1.06)" text-anchor="middle">Array-profiled LINE-1</text><text transform="translate(217.5 321.4) scale(1 1.06)" text-anchor="middle">methylation</text><text transform="translate(174.38 189.86) scale(1 1.06)">r</text><text transform="translate(180.14 189.86) scale(1 1.06)">=</text><text transform="translate(188.14 189.86) scale(1 1.06)">0.70</text><text transform="translate(173.81 198.1) scale(1 1.06)" font-style="italic">P</text><text transform="translate(180.44 198.1) scale(1 1.06)">&lt;</text><text transform="translate(187.84 198.1) scale(1 1.06)">0.001</text></g>
<g><path d="M309.90,260.90 L312.19,259.75 L314.47,258.59 L316.76,257.44 L319.05,256.28 L321.34,255.13 L323.62,253.97 L325.91,252.81 L328.20,251.65 L330.49,250.49 L332.77,249.33 L335.06,248.17 L337.35,247.00 L339.64,245.83 L341.92,244.65 L344.21,243.48 L346.50,242.29 L348.79,241.10 L351.07,239.90 L353.36,238.69 L355.65,237.47 L357.94,236.23 L360.22,234.96 L362.51,233.67 L364.80,232.33 L367.09,230.94 L369.38,229.50 L371.66,227.99 L373.95,226.41 L376.24,224.78 L378.52,223.10 L380.81,221.38 L383.10,219.63 L385.39,217.85 L387.67,216.06 L389.96,214.25 L392.25,212.44 L394.54,210.61 L396.82,208.78 L399.11,206.94 L401.40,205.10 L401.40,215.70 L399.11,216.87 L396.82,218.05 L394.54,219.23 L392.25,220.42 L389.96,221.62 L387.67,222.83 L385.39,224.05 L383.10,225.29 L380.81,226.56 L378.52,227.85 L376.24,229.18 L373.95,230.57 L371.66,232.01 L369.38,233.51 L367.09,235.08 L364.80,236.71 L362.51,238.39 L360.22,240.11 L357.94,241.86 L355.65,243.63 L353.36,245.42 L351.07,247.23 L348.79,249.04 L346.50,250.87 L344.21,252.70 L341.92,254.54 L339.64,256.38 L337.35,258.22 L335.06,260.07 L332.77,261.92 L330.49,263.77 L328.20,265.63 L325.91,267.48 L323.62,269.34 L321.34,271.20 L319.05,273.06 L316.76,274.92 L314.47,276.78 L312.19,278.64 L309.90,280.50 Z" fill="#D6D6D6"/><circle cx="398.2" cy="184.8" r="1.05"/><circle cx="388.8" cy="196.9" r="1.05"/><circle cx="384.0" cy="200.5" r="1.05"/><circle cx="382.4" cy="202.2" r="1.05"/><circle cx="390.1" cy="202.1" r="1.05"/><circle cx="397.2" cy="200.5" r="1.05"/><circle cx="398.5" cy="201.7" r="1.05"/><circle cx="401.4" cy="201.3" r="1.05"/><circle cx="389.1" cy="208.2" r="1.05"/><circle cx="390.1" cy="207.4" r="1.05"/><circle cx="397.2" cy="207.7" r="1.05"/><circle cx="380.0" cy="213.0" r="1.05"/><circle cx="387.2" cy="212.2" r="1.05"/><circle cx="391.2" cy="212.2" r="1.05"/><circle cx="399.8" cy="212.7" r="1.05"/><circle cx="374.3" cy="217.8" r="1.05"/><circle cx="368.7" cy="218.6" r="1.05"/><circle cx="390.1" cy="216.2" r="1.05"/><circle cx="393.3" cy="218.6" r="1.05"/><circle cx="397.7" cy="218.6" r="1.05"/><circle cx="399.8" cy="217.0" r="1.05"/><circle cx="380.8" cy="220.3" r="1.05"/><circle cx="393.2" cy="221.1" r="1.05"/><circle cx="375.9" cy="222.4" r="1.05"/><circle cx="383.7" cy="223.2" r="1.05"/><circle cx="384.8" cy="222.2" r="1.05"/><circle cx="362.2" cy="223.5" r="1.05"/><circle cx="363.9" cy="224.3" r="1.05"/><circle cx="390.7" cy="226.4" r="1.05"/><circle cx="388.8" cy="228.3" r="1.05"/><circle cx="381.2" cy="229.1" r="1.05"/><circle cx="375.9" cy="230.2" r="1.05"/><circle cx="339.3" cy="231.8" r="1.05"/><circle cx="349.0" cy="233.6" r="1.05"/><circle cx="350.1" cy="235.3" r="1.05"/><circle cx="353.9" cy="233.3" r="1.05"/><circle cx="339.0" cy="238.2" r="1.05"/><circle cx="343.1" cy="243.5" r="1.05"/><circle cx="355.0" cy="244.8" r="1.05"/><circle cx="341.4" cy="251.4" r="1.05"/><circle cx="321.7" cy="255.5" r="1.05"/><circle cx="320.1" cy="260.7" r="1.05"/><circle cx="309.9" cy="262.8" r="1.05"/><circle cx="330.4" cy="268.4" r="1.05"/><circle cx="345.5" cy="266.0" r="1.05"/><circle cx="366.8" cy="235.3" r="1.05"/><circle cx="371.9" cy="235.0" r="1.05"/><circle cx="371.9" cy="239.1" r="1.05"/><circle cx="379.9" cy="239.9" r="1.05"/><circle cx="393.9" cy="236.4" r="1.05"/><circle cx="356.6" cy="234.5" r="1.05"/><circle cx="365.7" cy="244.3" r="1.05"/><circle cx="357.5" cy="249.7" r="1.05"/><circle cx="364.5" cy="252.0" r="1.05"/><circle cx="370.3" cy="253.3" r="1.05"/><circle cx="362.9" cy="256.9" r="1.05"/><circle cx="364.0" cy="258.2" r="1.05"/><circle cx="385.3" cy="264.0" r="1.05"/><line x1="309.9" y1="270.70000000000005" x2="401.4" y2="210.4" stroke="#3366FF" stroke-width="2.5"/><rect x="305.5" y="180.2" width="100.50" height="104.10" fill="none" stroke="#262626" stroke-width="1.25"/><line x1="324.6" y1="284.3" x2="324.6" y2="286.30" stroke="#111" stroke-width="1.7"/><text transform="translate(325.5 296.2) scale(1 1.06)" text-anchor="middle">0.65</text><line x1="344.6" y1="284.3" x2="344.6" y2="286.30" stroke="#111" stroke-width="1.7"/><text transform="translate(345.6 296.2) scale(1 1.06)" text-anchor="middle">0.70</text><line x1="364.6" y1="284.3" x2="364.6" y2="286.30" stroke="#111" stroke-width="1.7"/><text transform="translate(365.9 296.2) scale(1 1.06)" text-anchor="middle">0.75</text><line x1="384.6" y1="284.3" x2="384.6" y2="286.30" stroke="#111" stroke-width="1.7"/><text transform="translate(385.6 296.2) scale(1 1.06)" text-anchor="middle">0.80</text><line x1="404.6" y1="284.3" x2="404.6" y2="286.30" stroke="#111" stroke-width="1.7"/><text transform="translate(405.6 296.2) scale(1 1.06)" text-anchor="middle">0.85</text><line x1="303.50" y1="194.4" x2="305.5" y2="194.4" stroke="#111" stroke-width="1.7"/><text transform="translate(301.3 197.70) scale(1 1.06)" text-anchor="end">0.800</text><line x1="303.50" y1="216.7" x2="305.5" y2="216.7" stroke="#111" stroke-width="1.7"/><text transform="translate(301.3 220.00) scale(1 1.06)" text-anchor="end">0.775</text><line x1="303.50" y1="239.1" x2="305.5" y2="239.1" stroke="#111" stroke-width="1.7"/><text transform="translate(301.3 242.40) scale(1 1.06)" text-anchor="end">0.750</text><line x1="303.50" y1="261.4" x2="305.5" y2="261.4" stroke="#111" stroke-width="1.7"/><text transform="translate(301.3 264.70) scale(1 1.06)" text-anchor="end">0.725</text><text transform="translate(357.0 171.9) scale(1 1.03)" text-anchor="middle">Whole</text><text transform="translate(354.1 309.9) scale(1 1.06)" text-anchor="middle">Array-profiled LINE-1</text><text transform="translate(355.4 321.4) scale(1 1.06)" text-anchor="middle">methylation</text><text transform="translate(311.98 189.4) scale(1 1.06)">r</text><text transform="translate(317.74 189.4) scale(1 1.06)">=</text><text transform="translate(325.74 189.4) scale(1 1.06)">0.76</text><text transform="translate(311.23 197.96) scale(1 1.06)">P</text><text transform="translate(317.74 197.96) scale(1 1.06)">&lt;</text><text transform="translate(325.14 197.96) scale(1 1.06)">0.001</text></g>
<g><path d="M445.80,241.25 L448.12,240.64 L450.43,240.02 L452.75,239.40 L455.06,238.78 L457.38,238.14 L459.69,237.51 L462.00,236.86 L464.32,236.21 L466.63,235.55 L468.95,234.88 L471.26,234.19 L473.58,233.49 L475.89,232.78 L478.21,232.04 L480.52,231.28 L482.84,230.50 L485.15,229.68 L487.47,228.82 L489.78,227.92 L492.10,226.97 L494.41,225.96 L496.73,224.88 L499.05,223.73 L501.36,222.50 L503.68,221.18 L505.99,219.78 L508.31,218.30 L510.62,216.74 L512.93,215.11 L515.25,213.42 L517.56,211.68 L519.88,209.88 L522.19,208.05 L524.51,206.18 L526.82,204.29 L529.14,202.36 L531.45,200.42 L533.77,198.46 L536.09,196.49 L538.40,194.50 L538.40,221.90 L536.09,222.58 L533.77,223.27 L531.45,223.97 L529.14,224.70 L526.82,225.44 L524.51,226.21 L522.19,227.01 L519.88,227.84 L517.56,228.71 L515.25,229.63 L512.93,230.60 L510.62,231.64 L508.31,232.74 L505.99,233.93 L503.68,235.19 L501.36,236.54 L499.05,237.97 L496.73,239.49 L494.41,241.07 L492.10,242.73 L489.78,244.44 L487.47,246.21 L485.15,248.02 L482.84,249.86 L480.52,251.74 L478.21,253.65 L475.89,255.58 L473.58,257.53 L471.26,259.49 L468.95,261.47 L466.63,263.47 L464.32,265.47 L462.00,267.48 L459.69,269.50 L457.38,271.53 L455.06,273.56 L452.75,275.60 L450.43,277.65 L448.12,279.70 L445.80,281.75 Z" fill="#D6D6D6"/><circle cx="521.8" cy="184.3" r="1.05"/><circle cx="513.7" cy="194.0" r="1.05"/><circle cx="538.4" cy="203.3" r="1.05"/><circle cx="523.9" cy="207.7" r="1.05"/><circle cx="496.0" cy="210.3" r="1.05"/><circle cx="503.0" cy="209.8" r="1.05"/><circle cx="507.8" cy="211.9" r="1.05"/><circle cx="506.8" cy="213.0" r="1.05"/><circle cx="498.1" cy="213.8" r="1.05"/><circle cx="505.2" cy="215.1" r="1.05"/><circle cx="519.7" cy="213.8" r="1.05"/><circle cx="526.3" cy="213.0" r="1.05"/><circle cx="525.8" cy="220.3" r="1.05"/><circle cx="517.8" cy="229.9" r="1.05"/><circle cx="503.6" cy="231.2" r="1.05"/><circle cx="483.7" cy="218.6" r="1.05"/><circle cx="489.0" cy="228.0" r="1.05"/><circle cx="486.9" cy="241.7" r="1.05"/><circle cx="474.8" cy="247.8" r="1.05"/><circle cx="461.1" cy="248.9" r="1.05"/><circle cx="459.0" cy="258.1" r="1.05"/><circle cx="445.8" cy="262.6" r="1.05"/><circle cx="472.9" cy="271.9" r="1.05"/><circle cx="507.3" cy="239.6" r="1.05"/><circle cx="516.5" cy="243.3" r="1.05"/><circle cx="524.2" cy="246.0" r="1.05"/><circle cx="515.0" cy="252.1" r="1.05"/><circle cx="516.6" cy="254.9" r="1.05"/><line x1="445.8" y1="261.5" x2="538.4" y2="208.2" stroke="#3366FF" stroke-width="2.5"/><rect x="441.4" y="180.0" width="101.40" height="103.40" fill="none" stroke="#262626" stroke-width="1.25"/><line x1="467.3" y1="283.4" x2="467.3" y2="285.40" stroke="#111" stroke-width="1.7"/><text transform="translate(466.3 296.2) scale(1 1.06)" text-anchor="middle">0.65</text><line x1="493.3" y1="283.4" x2="493.3" y2="285.40" stroke="#111" stroke-width="1.7"/><text transform="translate(492.8 296.2) scale(1 1.06)" text-anchor="middle">0.70</text><line x1="519.3" y1="283.4" x2="519.3" y2="285.40" stroke="#111" stroke-width="1.7"/><text transform="translate(519.0 296.2) scale(1 1.06)" text-anchor="middle">0.75</text><line x1="439.40" y1="207.1" x2="441.4" y2="207.1" stroke="#111" stroke-width="1.7"/><text transform="translate(436.8 210.40) scale(1 1.06)" text-anchor="end">0.76</text><line x1="439.40" y1="238.0" x2="441.4" y2="238.0" stroke="#111" stroke-width="1.7"/><text transform="translate(436.8 241.30) scale(1 1.06)" text-anchor="end">0.74</text><line x1="439.40" y1="268.9" x2="441.4" y2="268.9" stroke="#111" stroke-width="1.7"/><text transform="translate(436.8 272.20) scale(1 1.06)" text-anchor="end">0.72</text><text transform="translate(496.4 171.9) scale(1 1.03)" text-anchor="middle">IDH-WT</text><text transform="translate(492.9 309.9) scale(1 1.06)" text-anchor="middle">Array-profiled LINE-1</text><text transform="translate(494.6 321.4) scale(1 1.06)" text-anchor="middle">methylation</text><text transform="translate(446.28 189.3) scale(1 1.06)">r</text><text transform="translate(451.94 189.3) scale(1 1.06)">=</text><text transform="translate(459.84 189.3) scale(1 1.06)">0.58</text><text transform="translate(445.01 199.9) scale(1 1.06)" font-style="italic">P</text><text transform="translate(453.24 199.9) scale(1 1.06)">=</text><text transform="translate(460.84 199.9) scale(1 1.06)">0.001</text></g>
<g><path d="M582.60,224.30 L584.90,224.12 L587.21,223.94 L589.51,223.75 L591.81,223.56 L594.11,223.37 L596.42,223.17 L598.72,222.98 L601.02,222.77 L603.32,222.56 L605.62,222.35 L607.93,222.13 L610.23,221.90 L612.53,221.67 L614.84,221.42 L617.14,221.17 L619.44,220.90 L621.74,220.62 L624.05,220.32 L626.35,220.00 L628.65,219.66 L630.95,219.29 L633.25,218.90 L635.56,218.47 L637.86,218.00 L640.16,217.48 L642.47,216.92 L644.77,216.30 L647.07,215.63 L649.37,214.90 L651.68,214.12 L653.98,213.29 L656.28,212.40 L658.58,211.48 L660.88,210.51 L663.19,209.50 L665.49,208.47 L667.79,207.41 L670.10,206.32 L672.40,205.22 L674.70,204.10 L674.70,221.30 L672.40,221.58 L670.10,221.89 L667.79,222.21 L665.49,222.55 L663.19,222.92 L660.88,223.32 L658.58,223.76 L656.28,224.24 L653.98,224.76 L651.68,225.33 L649.37,225.95 L647.07,226.63 L644.77,227.36 L642.47,228.15 L640.16,228.99 L637.86,229.88 L635.56,230.82 L633.25,231.79 L630.95,232.80 L628.65,233.84 L626.35,234.90 L624.05,235.99 L621.74,237.10 L619.44,238.22 L617.14,239.36 L614.84,240.51 L612.53,241.67 L610.23,242.84 L607.93,244.02 L605.62,245.20 L603.32,246.39 L601.02,247.59 L598.72,248.79 L596.42,250.00 L594.11,251.21 L591.81,252.42 L589.51,253.64 L587.21,254.85 L584.90,256.08 L582.60,257.30 Z" fill="#D6D6D6"/><circle cx="667.8" cy="184.3" r="1.05"/><circle cx="644.1" cy="199.6" r="1.05"/><circle cx="632.0" cy="203.3" r="1.05"/><circle cx="628.1" cy="205.4" r="1.05"/><circle cx="647.6" cy="205.0" r="1.05"/><circle cx="663.7" cy="203.0" r="1.05"/><circle cx="665.4" cy="204.5" r="1.05"/><circle cx="669.5" cy="205.3" r="1.05"/><circle cx="675.0" cy="204.2" r="1.05"/><circle cx="643.8" cy="213.0" r="1.05"/><circle cx="646.5" cy="212.2" r="1.05"/><circle cx="639.3" cy="217.4" r="1.05"/><circle cx="648.9" cy="216.7" r="1.05"/><circle cx="670.7" cy="218.2" r="1.05"/><circle cx="673.9" cy="215.7" r="1.05"/><circle cx="647.3" cy="223.5" r="1.05"/><circle cx="660.2" cy="224.3" r="1.05"/><circle cx="666.3" cy="225.1" r="1.05"/><circle cx="670.7" cy="223.2" r="1.05"/><circle cx="651.3" cy="225.9" r="1.05"/><circle cx="655.7" cy="227.5" r="1.05"/><circle cx="634.4" cy="229.9" r="1.05"/><circle cx="622.9" cy="218.2" r="1.05"/><circle cx="608.4" cy="223.8" r="1.05"/><circle cx="612.1" cy="228.8" r="1.05"/><circle cx="583.1" cy="231.2" r="1.05"/><circle cx="613.2" cy="238.8" r="1.05"/><circle cx="621.8" cy="250.5" r="1.05"/><circle cx="648.9" cy="233.9" r="1.05"/><circle cx="644.1" cy="236.8" r="1.05"/><circle cx="656.7" cy="246.0" r="1.05"/><circle cx="635.7" cy="279.0" r="1.05"/><line x1="582.6" y1="240.79999999999998" x2="674.7" y2="212.7" stroke="#3366FF" stroke-width="2.5"/><rect x="577.7" y="180.0" width="102.00" height="103.20" fill="none" stroke="#262626" stroke-width="1.25"/><line x1="585.9" y1="283.2" x2="585.9" y2="285.20" stroke="#111" stroke-width="1.7"/><text transform="translate(584.0 296.2) scale(1 1.06)" text-anchor="middle">0.750</text><line x1="612.0" y1="283.2" x2="612.0" y2="285.20" stroke="#111" stroke-width="1.7"/><text transform="translate(610.6 296.2) scale(1 1.06)" text-anchor="middle">0.775</text><line x1="636.7" y1="283.2" x2="636.7" y2="285.20" stroke="#111" stroke-width="1.7"/><text transform="translate(635.4 296.2) scale(1 1.06)" text-anchor="middle">0.800</text><line x1="662.1" y1="283.2" x2="662.1" y2="285.20" stroke="#111" stroke-width="1.7"/><text transform="translate(660.7 296.2) scale(1 1.06)" text-anchor="middle">0.825</text><line x1="575.70" y1="196.9" x2="577.7" y2="196.9" stroke="#111" stroke-width="1.7"/><text transform="translate(573.7 200.20) scale(1 1.06)" text-anchor="end">0.80</text><line x1="575.70" y1="218.05" x2="577.7" y2="218.05" stroke="#111" stroke-width="1.7"/><text transform="translate(573.7 221.35) scale(1 1.06)" text-anchor="end">0.78</text><line x1="575.70" y1="239.2" x2="577.7" y2="239.2" stroke="#111" stroke-width="1.7"/><text transform="translate(573.7 242.50) scale(1 1.06)" text-anchor="end">0.76</text><line x1="575.70" y1="260.35" x2="577.7" y2="260.35" stroke="#111" stroke-width="1.7"/><text transform="translate(573.7 263.65) scale(1 1.06)" text-anchor="end">0.74</text><line x1="575.70" y1="281.5" x2="577.7" y2="281.5" stroke="#111" stroke-width="1.7"/><text transform="translate(573.7 284.80) scale(1 1.06)" text-anchor="end">0.72</text><text transform="translate(632.0 171.9) scale(1 1.03)" text-anchor="middle">IDH-MUT</text><text transform="translate(625.5 309.9) scale(1 1.06)" text-anchor="middle">Array-profiled LINE-1</text><text transform="translate(627.2 321.4) scale(1 1.06)" text-anchor="middle">methylation</text><text transform="translate(581.28 188.96) scale(1 1.06)">r</text><text transform="translate(587.64 188.96) scale(1 1.06)">=</text><text transform="translate(595.44 188.96) scale(1 1.06)">0.39</text><text transform="translate(580.31 199.7) scale(1 1.06)" font-style="italic">P</text><text transform="translate(588.64 199.7) scale(1 1.06)">=</text><text transform="translate(596.24 199.7) scale(1 1.06)">0.022</text></g>
<text x="6.8" y="66.4" transform="rotate(-90 6.8 66.4)" text-anchor="middle" dy="0">MoRad-Alu</text>
<text x="6.8" y="227.9" transform="rotate(-90 6.8 227.9)" text-anchor="middle" dy="0">MoRad-L1</text>
</svg></body></html>
